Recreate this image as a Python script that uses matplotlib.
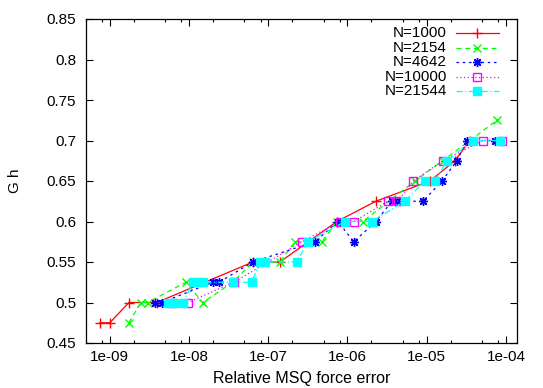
import numpy as np
import matplotlib
matplotlib.use("Agg")
import matplotlib.pyplot as plt
from matplotlib.ticker import LogLocator, FixedLocator, NullFormatter

plt.rcParams['font.family'] = ['Liberation Sans', 'DejaVu Sans']

# data: force error vs G h
err_1000 = [7.5e-10, 1.0e-9, 1.74e-9, 3.9e-9, 6.4e-8, 1.4e-7, 7.35e-7, 2.28e-6, 1.1e-5, 2.27e-5, 3.5e-5]
gh_1000 = [0.475, 0.475, 0.5, 0.5, 0.55, 0.55, 0.6, 0.625, 0.65, 0.675, 0.7]

err_2154 = [1.74e-9, 2.46e-9, 3.0e-9, 9.1e-9, 1.49e-8, 3.57e-8, 6.4e-8, 1.4e-7, 2.17e-7,
            4.75e-7, 7.35e-7, 1.56e-6, 7.1e-6, 1.6e-5, 7.7e-5]
gh_2154 = [0.475, 0.5, 0.5, 0.525, 0.5, 0.525, 0.55, 0.55, 0.575,
           0.575, 0.6, 0.6, 0.65, 0.675, 0.725]

err_4642 = [3.7e-9, 4.5e-9, 2.0e-8, 2.38e-8, 6.4e-8, 3.87e-7, 7.57e-7, 1.2e-6,
            2.28e-6, 3.64e-6, 4.2e-6, 8.96e-6, 1.56e-5, 2.4e-5, 3.22e-5, 7.26e-5]
gh_4642 = [0.5, 0.5, 0.525, 0.525, 0.55, 0.575, 0.6, 0.575,
           0.6, 0.625, 0.625, 0.625, 0.65, 0.675, 0.7, 0.7]

err_10000 = [6.1e-9, 9.7e-9, 3.68e-8, 2.66e-7, 8.0e-7, 1.2e-6, 3.24e-6, 4.33e-6,
             6.7e-6, 1.6e-5, 5.13e-5, 8.9e-5]
gh_10000 = [0.5, 0.5, 0.525, 0.575, 0.6, 0.6, 0.625, 0.625,
            0.65, 0.675, 0.7, 0.7]

err_21544 = [5.4e-9, 6.4e-9, 8.35e-9, 1.12e-8, 1.29e-8, 1.49e-8, 3.57e-8, 6.2e-8,
             7.84e-8, 9.06e-8, 2.3e-7, 3.16e-7, 9.27e-7, 2.03e-6, 5.31e-6,
             9.49e-6, 1.27e-5, 1.8e-5, 3.83e-5, 8.4e-5]
gh_21544 = [0.5, 0.5, 0.5, 0.525, 0.525, 0.525, 0.525, 0.525,
            0.55, 0.55, 0.55, 0.575, 0.6, 0.6, 0.625,
            0.65, 0.65, 0.675, 0.7, 0.7]

series = [
    ("N=1000", err_1000, gh_1000, "#ff0000", "-", "+", "none"),
    ("N=2154", err_2154, gh_2154, "#00ff00", (0, (4, 3)), "x", "none"),
    ("N=4642", err_4642, gh_4642, "#0000ff", (0, (2, 3)), (8, 2, 0), "none"),
    ("N=10000", err_10000, gh_10000, "#ff00ff", (0, (1, 2)), "s", "none"),
    ("N=21544", err_21544, gh_21544, "#00ffff", (0, (5, 2, 1, 2)), "s", "#00ffff"),
]

fig = plt.figure(figsize=(5.43, 3.88), dpi=100)
ax = fig.add_axes([86/543, 1-343/388, (517-86)/543, (343-19)/388])

msize = {"+": 7, "x": 6, "s": 5.5}
for i, (lab, x, y, c, ls, mk, fc) in enumerate(series):
    ms = msize.get(mk, 6.5) if isinstance(mk, str) else 6.5
    ax.plot(x, y, color=c, linestyle=ls, linewidth=0.9, marker=mk, markersize=ms,
            markerfacecolor=fc, markeredgecolor=c, markeredgewidth=1.0)
    # gnuplot-style key, drawn by hand
    ly = 1 - (33 - 19 + i*14.6)/324
    ax.text((447-86)/431, ly, lab, transform=ax.transAxes, ha='right', va='center', fontsize=11)
    ax.plot([(456-86)/431, (499-86)/431], [ly, ly], transform=ax.transAxes, color=c,
            linestyle=ls, linewidth=0.9, clip_on=False)
    ax.plot([(477-86)/431], [ly], transform=ax.transAxes, marker=mk, markersize=ms,
            markerfacecolor=fc, markeredgecolor=c, markeredgewidth=1.0, color=c, clip_on=False)

ax.set_xscale('log')
ax.set_xlim(5e-10, 1.38e-4)
ax.set_ylim(0.45, 0.85)
ax.xaxis.set_major_locator(FixedLocator([1e-9, 1e-8, 1e-7, 1e-6, 1e-5, 1e-4]))
ax.set_xticklabels(["1e-09", "1e-08", "1e-07", "1e-06", "1e-05", "1e-04"])
ax.xaxis.set_minor_locator(LogLocator(base=10, subs=[2, 5, 8], numticks=30))
ax.xaxis.set_minor_formatter(NullFormatter())
ax.set_yticks([0.45, 0.5, 0.55, 0.6, 0.65, 0.7, 0.75, 0.8, 0.85])
ax.set_yticklabels(["0.45", "0.5", "0.55", "0.6", "0.65", "0.7", "0.75", "0.8", "0.85"])

ax.tick_params(which='both', direction='in', top=True, right=True, labelsize=11)
ax.tick_params(which='major', length=5, width=0.8)
ax.tick_params(which='minor', length=2.5, width=0.8)
ax.tick_params(axis='y', pad=7)
ax.tick_params(axis='x', pad=5)
for s in ax.spines.values():
    s.set_linewidth(0.9)

ax.set_xlabel("Relative MSQ force error", fontsize=11.5, labelpad=5)
ax.set_ylabel("G h", fontsize=11, labelpad=18)

fig.savefig("out.png", dpi=100)
